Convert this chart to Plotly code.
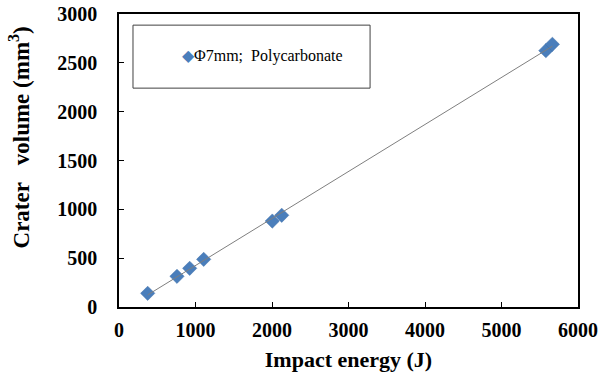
import numpy as np
import plotly.graph_objects as go

energy = [375, 758, 924, 1107, 2004, 2127, 5580, 5665]
volume = [140, 314, 396, 488, 880, 939, 2625, 2690]
series_name = "Φ7mm;  Polycarbonate"
x_ticks = [0, 1000, 2000, 3000, 4000, 5000, 6000]
y_ticks = [0, 500, 1000, 1500, 2000, 2500, 3000]

slope, intercept = np.polyfit(energy, volume, 1)
fit_x = [min(energy), max(energy)]
fit_y = [slope * v + intercept for v in fit_x]

FONT = "Liberation Serif"
BLUE = "#4A7EBB"
fig = go.Figure()
fig.add_trace(go.Scatter(
    x=energy, y=volume, mode="markers", name=series_name, showlegend=False,
    marker=dict(symbol="diamond", size=11, color=BLUE,
                line=dict(width=0.5, color="#3F6FA8")),
))
fig.add_trace(go.Scatter(
    x=fit_x, y=fit_y, mode="lines", showlegend=False,
    line=dict(color="#7F7F7F", width=1),
))

# legend frame and entry
fig.add_shape(type="rect", xref="paper", yref="paper",
              x0=0.0305, x1=0.547, y0=0.747, y1=0.962,
              line=dict(color="#404040", width=1), fillcolor="rgba(0,0,0,0)")
fig.add_annotation(xref="paper", yref="paper", x=0.132, y=0.855,
                   xanchor="left", yanchor="middle", showarrow=False,
                   text=f'<span style="color:{BLUE}">◆</span>{series_name}',
                   font=dict(family=FONT, size=16, color="black"))

# y axis title
fig.add_annotation(xref="paper", yref="paper", x=-0.217, y=0.58,
                   xanchor="center", yanchor="middle", showarrow=False,
                   textangle=-90,
                   text="<b>Crater   volume (mm<sup>3</sup>)</b>",
                   font=dict(family=FONT, size=23, color="black"))

fig.update_layout(
    width=611, height=376,
    margin=dict(l=119, r=33, t=14, b=69, autoexpand=False),
    paper_bgcolor="white", plot_bgcolor="white",
    font=dict(family=FONT, color="black"),
    showlegend=False,
    xaxis=dict(
        range=[0, 6000], tickvals=x_ticks, automargin=False,
        ticktext=[f"<b>{v}</b>" for v in x_ticks],
        ticks="inside", ticklen=5,
        tickcolor="black", showline=True, linecolor="black", linewidth=1.5,
        mirror=True, showgrid=False, zeroline=False,
        tickfont=dict(family=FONT, size=20, color="black"),
        ticklabelstandoff=4,
        title=dict(text="<b>Impact energy (J)</b>",
                   font=dict(family=FONT, size=22, color="black"), standoff=12),
    ),
    yaxis=dict(
        range=[0, 3000], tickvals=y_ticks, automargin=False,
        ticktext=[f"<b>{v}</b>" for v in y_ticks],
        ticks="inside", ticklen=5,
        tickcolor="black", showline=True, linecolor="black", linewidth=1.5,
        mirror=True, showgrid=False, zeroline=False,
        tickfont=dict(family=FONT, size=20, color="black"),
        ticklabelstandoff=16,
    ),
)

fig.write_html("out.html")
